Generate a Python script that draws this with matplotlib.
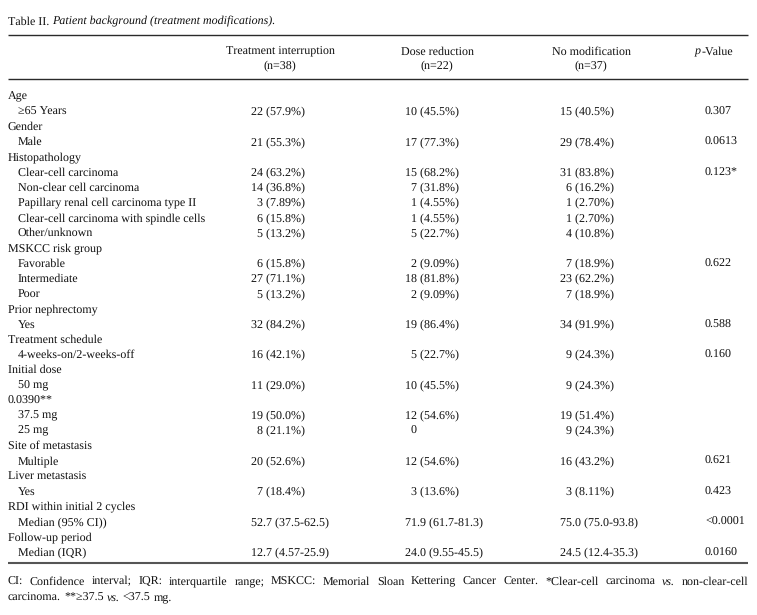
import re
import matplotlib
matplotlib.use("Agg")
import matplotlib.pyplot as plt

plt.rcParams["text.hinting"] = "no_hinting"
plt.rcParams["text.hinting_factor"] = 1

# ---------------- data ----------------
title_plain = "Table II."
title_italic = "Patient background (treatment modifications)."

col_headers = ["Treatment interruption\n(n=38)", "Dose reduction\n(n=22)", "No modification\n(n=37)"]

row_labels = ["Age", "≥65 Years", "Gender", "Male", "Histopathology",
              "Clear-cell carcinoma", "Non-clear cell carcinoma",
              "Papillary renal cell carcinoma type II",
              "Clear-cell carcinoma with spindle cells", "Other/unknown",
              "MSKCC risk group", "Favorable", "Intermediate", "Poor",
              "Prior nephrectomy", "Yes", "Treatment schedule",
              "4-weeks-on/2-weeks-off", "Initial dose", "50 mg", "0.0390**",
              "37.5 mg", "25 mg", "Site of metastasis", "Multiple",
              "Liver metastasis", "Yes", "RDI within initial 2 cycles",
              "Median (95% CI))", "Follow-up period", "Median (IQR)"]
row_indent = [0, 1, 0, 1, 0, 1, 1, 1, 1, 1, 0, 1, 1, 1, 0, 1, 0, 1, 0, 1, 0,
              1, 1, 0, 1, 0, 1, 0, 1, 0, 1]

treatment_interruption = ["", "22 (57.9%)", "", "21 (55.3%)", "", "24 (63.2%)", "14 (36.8%)",
                          "3 (7.89%)", "6 (15.8%)", "5 (13.2%)", "", "6 (15.8%)", "27 (71.1%)",
                          "5 (13.2%)", "", "32 (84.2%)", "", "16 (42.1%)", "", "11 (29.0%)", "",
                          "19 (50.0%)", "8 (21.1%)", "", "20 (52.6%)", "", "7 (18.4%)", "",
                          "52.7 (37.5-62.5)", "", "12.7 (4.57-25.9)"]
dose_reduction = ["", "10 (45.5%)", "", "17 (77.3%)", "", "15 (68.2%)", "7 (31.8%)",
                  "1 (4.55%)", "1 (4.55%)", "5 (22.7%)", "", "2 (9.09%)", "18 (81.8%)",
                  "2 (9.09%)", "", "19 (86.4%)", "", "5 (22.7%)", "", "10 (45.5%)", "",
                  "12 (54.6%)", "0", "", "12 (54.6%)", "", "3 (13.6%)", "",
                  "71.9 (61.7-81.3)", "", "24.0 (9.55-45.5)"]
no_modification = ["", "15 (40.5%)", "", "29 (78.4%)", "", "31 (83.8%)", "6 (16.2%)",
                   "1 (2.70%)", "1 (2.70%)", "4 (10.8%)", "", "7 (18.9%)", "23 (62.2%)",
                   "7 (18.9%)", "", "34 (91.9%)", "", "9 (24.3%)", "", "9 (24.3%)", "",
                   "19 (51.4%)", "9 (24.3%)", "", "16 (43.2%)", "", "3 (8.11%)", "",
                   "75.0 (75.0-93.8)", "", "24.5 (12.4-35.3)"]
p_values = ["", "0.307", "", "0.0613", "", "0.123*", "", "", "", "", "", "0.622", "", "",
            "", "0.588", "", "0.160", "", "", "", "", "", "", "0.621", "", "0.423", "",
            "<0.0001", "", "0.0160"]

footnote_line1 = [("CI:", "n"), ("Confidence", "n"), ("interval;", "n"), ("IQR:", "n"),
                  ("interquartile", "n"), ("range;", "n"), ("MSKCC:", "n"), ("Memorial", "n"),
                  ("Sloan", "n"), ("Kettering", "n"), ("Cancer", "n"), ("Center.", "n"),
                  ("*Clear-cell", "n"), ("carcinoma", "n"), ("vs.", "i"), ("non-clear-cell", "n")]
footnote_line2 = [("carcinoma.", "n"), ("**≥37.5", "n"), ("vs.", "i"), ("<37.5", "n"), ("mg.", "n")]

# ---------------- layout ----------------
W, H = 757, 615
FAM = ["Liberation Serif", "DejaVu Serif"]
COLOR = "#111111"
BL = 4.5  # offset from visual row centre to text baseline (px)

fig = plt.figure(figsize=(W / 100, H / 100), dpi=100)
ax = fig.add_axes([0, 0, 1, 1])
ax.set_xlim(0, W)
ax.set_ylim(H, 0)
ax.axis("off")
renderer = fig.canvas.get_renderer()


def width(s, fs, style="normal"):
    t = ax.text(0, 0, s, fontsize=fs, family=FAM, style=style)
    w = t.get_window_extent(renderer).width
    t.remove()
    return w


ref_w = width("Papillary renal cell carcinoma type II", 10)
FS = 10 * 186.0 / ref_w


def txt(x, y, s, ha="left", style="normal"):
    return ax.text(x, y + BL, s, fontsize=FS, family=FAM, style=style, ha=ha,
                   va="baseline", color=COLOR)


space_w = width("a b", FS) - width("ab", FS)

# title
x = 8
txt(x, 20, title_plain)
x += width(title_plain, FS) + space_w
txt(x, 20, title_italic, style="italic")

# rules
ax.plot([8, 748], [35, 35], color="#2a2a2a", lw=1.0, solid_capstyle="butt")
ax.plot([8, 748], [79, 79], color="#2a2a2a", lw=1.0, solid_capstyle="butt")
ax.plot([8, 748], [563, 563], color="#555555", lw=1.5, solid_capstyle="butt")

# headers
header_centers = [280, 437, 591]
for cx, h in zip(header_centers, col_headers):
    l1, l2 = h.split("\n")
    txt(cx, 50, l1, ha="center")
    txt(cx, 64, l2, ha="center")
px = 714 - width("p-Value", FS) / 2
txt(px, 50, "p", style="italic")
txt(px + width("p", FS, "italic"), 50, "-Value")

# body
y0, dy = 95.0, 15.2
w2 = width("00", FS)
col_starts = [251, 405, 560]
columns = [treatment_interruption, dose_reduction, no_modification]
for i, lab in enumerate(row_labels):
    y = y0 + i * dy
    txt(8 + 10 * row_indent[i], y, lab)
    for xs, col in zip(col_starts, columns):
        v = col[i]
        if not v:
            continue
        m = re.match(r"^(\d+)( \(.*\))?$", v)
        if m:
            shift = w2 - width(m.group(1), FS)
            txt(xs + shift, y, v)
        else:
            txt(xs, y, v)
    if p_values[i]:
        txt(705, y, p_values[i])


def draw_words(words, y, justify):
    ws = [width(w, FS, "italic" if s == "i" else "normal") for w, s in words]
    gap = (748 - 8 - sum(ws)) / (len(words) - 1) if justify else space_w
    x = 8
    for (w, s), wd in zip(words, ws):
        txt(x, y, w, style="italic" if s == "i" else "normal")
        x += wd + gap


draw_words(footnote_line1, 580, True)
draw_words(footnote_line2, 596, False)

fig.savefig("out.png", dpi=100)
